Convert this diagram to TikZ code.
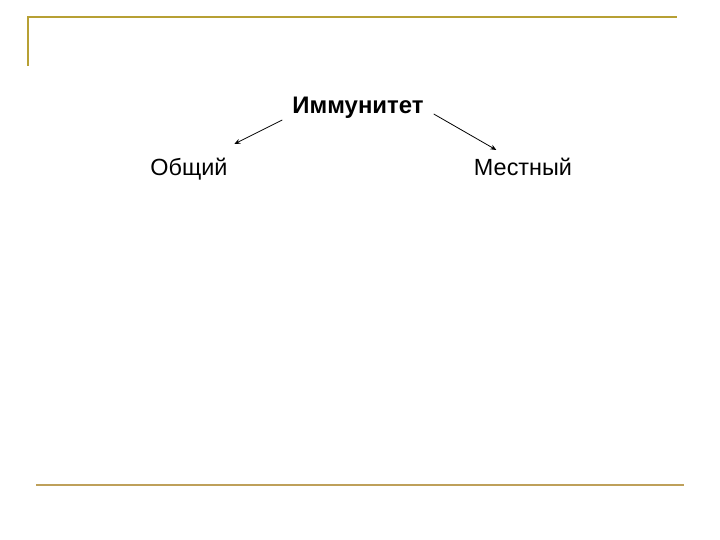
\documentclass[tikz,border=0pt]{standalone}
\usepackage{fontspec}
\setmainfont{Liberation Sans}
\usetikzlibrary{arrows.meta}
\definecolor{rulegold}{RGB}{183,160,52}
\definecolor{rulesand}{RGB}{190,160,90}
\tikzset{
  word/.style={font=\fontsize{23.5}{28}\selectfont, inner sep=0pt, anchor=base},
  arr/.style={-{Stealth[length=6bp,width=5bp]}, line width=0.8bp}
}
\begin{document}
\begin{tikzpicture}[x=1bp,y=-1bp]
\useasboundingbox (0,0) rectangle (720,540);
% frame rules
\draw[rulegold, line width=2.2bp] (28,66)--(28,17)--(677,17);
\draw[rulesand, line width=2.2bp] (36,485)--(684,485);
% words
\node[word, font=\fontsize{24}{28}\selectfont\bfseries] (imm) at (358,113.5) {Иммунитет};
\node[word] (obsh) at (189,176) {Общий};
\node[word] (mest) at (523,176) {Местный};
% arrows
\draw[arr] ([shift={(-10,6.5)}]imm.base west) -- ([shift={(6.6,-32)}]obsh.base east);
\draw[arr] ([shift={(10,0.5)}]imm.base east) -- ([shift={(22.6,-26)}]mest.base west);
\end{tikzpicture}
\end{document}
